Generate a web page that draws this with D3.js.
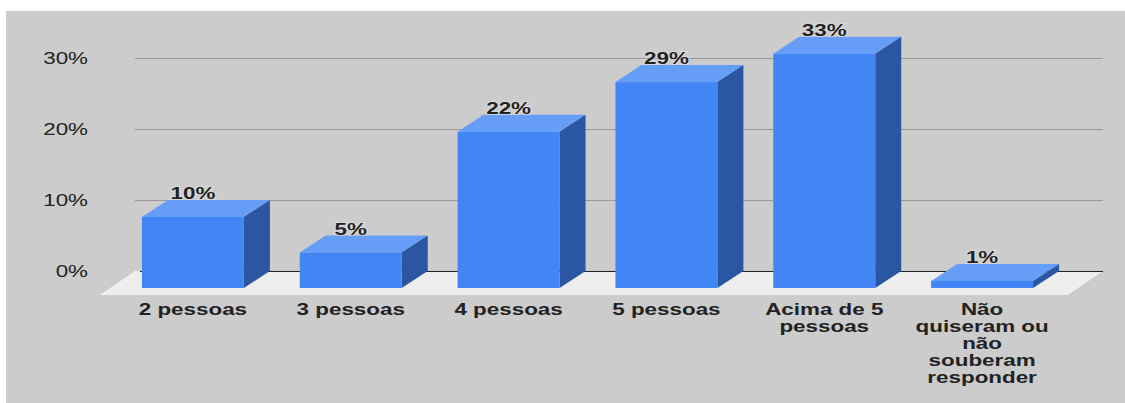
<!DOCTYPE html>
<html><head><meta charset="utf-8">
<script src="https://cdn.jsdelivr.net/npm/d3@7"></script>
<style>html,body{margin:0;padding:0;background:#fff;}svg{display:block;}</style>
</head><body>
<svg id="c" width="1125" height="403"></svg>
<script>
const categories = [["2 pessoas"],["3 pessoas"],["4 pessoas"],["5 pessoas"],["Acima de 5","pessoas"],["Não","quiseram ou","não","souberam","responder"]];
const values = [10, 5, 22, 29, 33, 1];
const valueLabels = ["10%","5%","22%","29%","33%","1%"];
const yTicks = [0, 10, 20, 30];
const yTickLabels = ["0%","10%","20%","30%"];

const svg = d3.select("#c");
const font = "'Liberation Sans', Arial, sans-serif";
const sx = 1.4;
svg.append("rect").attr("x",6).attr("y",11).attr("width",1119).attr("height",392).attr("fill","#cccccc");

const dx = 26, dy = 17;       // bar depth
const fdx = 35, fdy = 24;     // floor depth
const backL = 135, backR = 1103;
const y = d3.scaleLinear().domain([0,30]).range([271,58]); // back plane
const x = d3.scaleBand().domain(d3.range(categories.length)).range([114,1061]).paddingInner(0.354).paddingOuter(0.177);
const bw = x.bandwidth();

// gridlines
svg.append("g").selectAll("line").data(yTicks.filter(t=>t>0)).join("line")
  .attr("x1",backL).attr("x2",backR).attr("y1",d=>Math.round(y(d))+0.5).attr("y2",d=>Math.round(y(d))+0.5)
  .attr("stroke","#999").attr("stroke-width",1);
// floor
const y0 = y(0);
svg.append("path").attr("d",`M${backL},${y0}L${backR},${y0}L${backR-fdx},${y0+fdy}L${backL-fdx},${y0+fdy}Z`).attr("fill","#eeeeee");
svg.append("line").attr("x1",backL+5).attr("x2",backR).attr("y1",Math.round(y0)+0.5).attr("y2",Math.round(y0)+0.5).attr("stroke","#222").attr("stroke-width",1);

// y labels
svg.append("g").selectAll("text").data(yTicks).join("text")
  .attr("transform",d=>`translate(88,${y(d)}) scale(${sx},1)`).attr("dy","0.35em").attr("text-anchor","end")
  .attr("font-family",font).attr("font-size",16).attr("fill","#222")
  .text((d,i)=>yTickLabels[i]);

// bars
const bars = svg.append("g").selectAll("g").data(values).join("g");
bars.each(function(v,i){
  const g = d3.select(this);
  const xl = x(i), xr = x(i)+bw;
  const yf = y(v)+dy, yb = y0+dy;
  g.append("path").attr("d",`M${xl},${yf}L${xr},${yf}L${xr+dx},${yf-dy}L${xl+dx},${yf-dy}Z`).attr("fill","#669df6");
  g.append("path").attr("d",`M${xr},${yf}L${xr+dx},${yf-dy}L${xr+dx},${y0}L${xr},${yb}Z`).attr("fill","#2a56a2");
  g.append("rect").attr("x",xl).attr("y",yf).attr("width",bw).attr("height",yb-yf).attr("fill","#4285f4");
  g.append("text").attr("transform",`translate(${xl+bw/2},${y(v)-1}) scale(${sx},1)`).attr("text-anchor","middle")
    .attr("font-family",font).attr("font-weight","bold").attr("font-size",16).attr("fill","#222")
    .attr("stroke","#e6e6e6").attr("stroke-width",2).attr("paint-order","stroke").attr("stroke-opacity",0.5)
    .text(valueLabels[i]);
});

// x labels
const xlab = svg.append("g").selectAll("text").data(categories).join("text")
  .attr("transform",(d,i)=>`translate(${x(i)+bw/2},315) scale(${sx},1)`).attr("text-anchor","middle")
  .attr("font-family",font).attr("font-weight","bold").attr("font-size",16).attr("fill","#222");
xlab.each(function(d){
  d3.select(this).selectAll("tspan").data(d).join("tspan")
    .attr("x",0).attr("dy",(t,j)=>j===0?0:17).text(t=>t);
});
</script>
</body></html>
